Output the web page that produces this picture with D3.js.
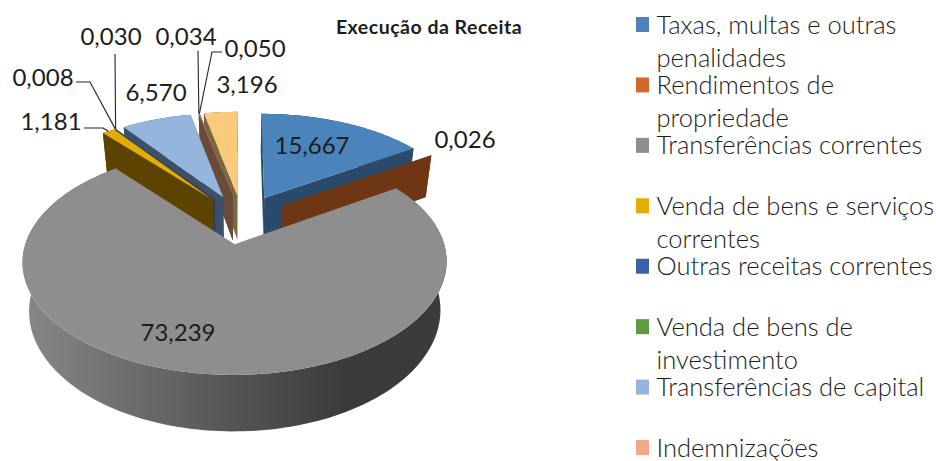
<!DOCTYPE html>
<html>
<head>
<meta charset="utf-8">
<script src="https://cdn.jsdelivr.net/npm/d3@7/dist/d3.min.js"></script>
<style>
html,body{margin:0;padding:0;background:#fff;overflow:hidden}
text{font-family:Lato,"Open Sans",sans-serif;fill:#1c1c1c}
</style>
</head>
<body>
<svg id="c" width="936" height="461"></svg>
<script>
const chartTitle = "Execução da Receita";
const values = [15.667, 0.026, 73.239, 1.181, 0.008, 0.030, 6.570, 0.034, 0.050, 3.196];
const topColors = ["#4a84bb","#d2692a","#8e8e8e","#e5ac00","#3a62a8","#609a43","#95b5dc","#f1a78a","#8a6a4a","#fbca7c"];
const wallColors = ["#2a4a6b","#6e3615","#5a5a5a","#5c4400","#223a66","#3a5c28","#3e5068","#6b4a3c","#75603a","#7a6a40"];
const legendLines = [
  ["Taxas, multas e outras","penalidades"],
  ["Rendimentos de","propriedade"],
  ["Transferências correntes"],
  ["Venda de bens e serviços","correntes"],
  ["Outras receitas correntes"],
  ["Venda de bens de","investimento"],
  ["Transferências de capital"],
  ["Indemnizações"]
];
const legendColors = topColors.slice(0, 8);

// layout
const cx = 242, cy = 219, rx = 202, ry = 102.6, persp = 0.15, depth = 46, explode = 0.24, taper = 0.03;
const labelPos = [[312,145],[465,139],[178,332],[51,121],[43,77],[111,36],[156,92],[186,36],[255,48],[247,84]];
// elbow of each leader, next to its label; null = no leader
const leaderElbows = [null,null,null,
  [[84,128],[103,128]],
  [[76,82],[90,82]],
  [[115,54]],
  null,
  [[198,51]],
  [[222,52],[212,52]],
  null];

const svg = d3.select("#c");
const defs = svg.append("defs");
const grad = defs.append("linearGradient").attr("id","grayWall")
  .attr("gradientUnits","userSpaceOnUse").attr("x1",25).attr("x2",345).attr("y1",0).attr("y2",0);
grad.append("stop").attr("offset",0).attr("stop-color","#878787");
grad.append("stop").attr("offset",0.55).attr("stop-color","#5c5c5c");
grad.append("stop").attr("offset",1).attr("stop-color","#3b3b3b");

const pie = d3.pie().sort(null).value(d => d).startAngle(0).endAngle(2*Math.PI);
const arcs = pie(values);

function project(a, t, r, z) {
  const mid = (a.startAngle + a.endAngle) / 2;
  const X = explode*Math.sin(mid) + r*Math.sin(t);
  const Y = -explode*Math.cos(mid) - r*Math.cos(t);
  const s = 1 / (1 - persp*Y);
  return [cx + rx*X*s*(1 - taper*z), cy + (ry*Y + depth*z)*s];
}
const line = d3.line().curve(d3.curveLinear);
const closed = pts => line(pts) + "Z";
function arcPoints(a, z) {
  const n = Math.max(2, Math.ceil((a.endAngle - a.startAngle) * 40));
  return d3.range(n + 1).map(i => project(a, a.startAngle + (a.endAngle - a.startAngle)*i/n, 1, z));
}

// painter's order: far slices first, grey front slice last
const order = [9,8,7,6,5,4,3,0,1];
const g = svg.append("g");
order.forEach(i => {
  const a = arcs[i];
  const top = arcPoints(a, 0), bottom = arcPoints(a, 1);
  g.append("path").attr("d", closed(top.concat(bottom.slice().reverse()))).attr("fill", wallColors[i]);
  [a.startAngle, a.endAngle].forEach(t => {
    g.append("path").attr("d", closed([
      project(a, t, 0, 0), project(a, t, 1, 0), project(a, t, 1, 1), project(a, t, 0, 1)
    ])).attr("fill", wallColors[i]);
  });
});
order.forEach(i => {
  const a = arcs[i];
  g.append("path").attr("d", closed([project(a, 0, 0, 0)].concat(arcPoints(a, 0)))).attr("fill", topColors[i]);
});
// front slice: wall then top hides everything behind it
{
  const a = arcs[2];
  const top = arcPoints(a, 0), bottom = arcPoints(a, 1);
  g.append("path").attr("d", closed(top.concat(bottom.slice().reverse()))).attr("fill", "url(#grayWall)");
  g.append("path").attr("d", closed([project(a, 0, 0, 0)].concat(top))).attr("fill", topColors[2]);
}

// leaders
leaderElbows.forEach((el, i) => {
  if (!el) return;
  const a = arcs[i];
  const end = project(a, (a.startAngle + a.endAngle)/2, 1, 0);
  svg.append("path").attr("d", line(el.concat([end])))
    .attr("fill","none").attr("stroke","#222").attr("stroke-width",1.1);
});

// value labels
const fmt = d3.format(".3f");
svg.selectAll("text.val").data(values).join("text").attr("class","val")
  .attr("x",(d,i)=>labelPos[i][0]).attr("y",(d,i)=>labelPos[i][1]).attr("dy","0.36em")
  .attr("text-anchor","middle").attr("font-size",24)
  .text(d => fmt(d).replace(".", ","));

// title
svg.append("text").attr("x",429).attr("y",34).attr("text-anchor","middle")
  .attr("font-size",19.5).attr("font-weight",700).attr("letter-spacing",0.5).text(chartTitle);

// legend
const legendY = d3.scaleLinear().domain([0,7]).range([24.5,447.5]);
const lg = svg.selectAll("g.lg").data(legendLines).join("g").attr("class","lg")
  .attr("transform",(d,i)=>`translate(636,${legendY(i)})`);
lg.append("rect").attr("x",0).attr("y",-7.5).attr("width",13).attr("height",15)
  .attr("fill",(d,i)=>legendColors[i]);
lg.each(function(lines){
  d3.select(this).selectAll("text").data(lines).join("text")
    .attr("x",20.5).attr("y",(d,j)=>9 + j*33.5)
    .attr("font-size",25.5).attr("font-weight",300).text(d=>d);
});
</script>
</body>
</html>
